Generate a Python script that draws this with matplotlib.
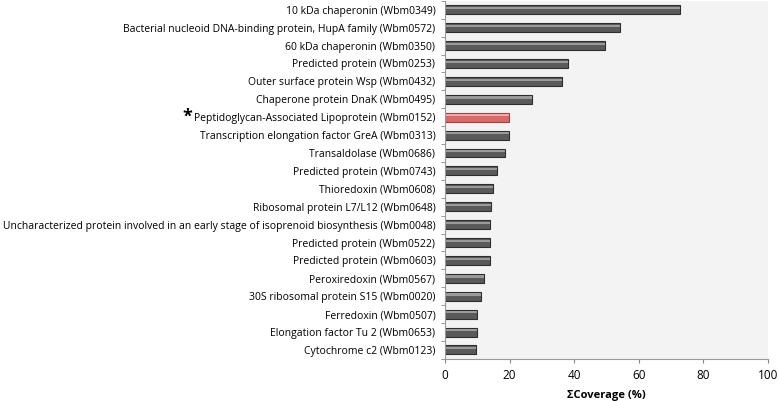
import matplotlib.pyplot as plt
import numpy as np

plt.rcParams["font.family"] = ["Open Sans", "DejaVu Sans"]

proteins = [
    "10 kDa chaperonin (Wbm0349)",
    "Bacterial nucleoid DNA-binding protein, HupA family (Wbm0572)",
    "60 kDa chaperonin (Wbm0350)",
    "Predicted protein (Wbm0253)",
    "Outer surface protein Wsp (Wbm0432)",
    "Chaperone protein DnaK (Wbm0495)",
    "Peptidoglycan-Associated Lipoprotein (Wbm0152)",
    "Transcription elongation factor GreA (Wbm0313)",
    "Transaldolase (Wbm0686)",
    "Predicted protein (Wbm0743)",
    "Thioredoxin (Wbm0608)",
    "Ribosomal protein L7/L12 (Wbm0648)",
    "Uncharacterized protein involved in an early stage of isoprenoid biosynthesis (Wbm0048)",
    "Predicted protein (Wbm0522)",
    "Predicted protein (Wbm0603)",
    "Peroxiredoxin (Wbm0567)",
    "30S ribosomal protein S15 (Wbm0020)",
    "Ferredoxin (Wbm0507)",
    "Elongation factor Tu 2 (Wbm0653)",
    "Cytochrome c2 (Wbm0123)",
]
coverage = [72.8, 54.3, 49.5, 38.2, 36.2, 26.8, 19.9, 19.8, 18.6, 16.1,
            15.0, 14.1, 13.8, 13.8, 13.8, 12.2, 11.0, 10.0, 10.0, 9.7]
highlight = "Peptidoglycan-Associated Lipoprotein (Wbm0152)"

fig = plt.figure(figsize=(7.78, 4.01), dpi=100)
ax = fig.add_axes([0.572, 0.105, 0.415, 0.893])
ax.set_facecolor("#f3f3f3")

y = np.arange(len(proteins))
face = ["#d86a6a" if p == highlight else "#5a5a5a" for p in proteins]
edge = ["#a04040" if p == highlight else "#2e2e2e" for p in proteins]
shine = ["#f0a8a8" if p == highlight else "#9a9a9a" for p in proteins]

ax.barh(y, coverage, height=0.5, color=face, edgecolor=edge, linewidth=0.8)
# lighter strip across the top of each bar for the bevelled look
ax.barh(y - 0.1, coverage, height=0.12, color=shine, linewidth=0)

ax.set_xlim(0, 100)
ax.set_ylim(len(proteins) - 0.5, -0.5)
ax.set_xticks([0, 20, 40, 60, 80, 100])
ax.set_yticks(y)
ax.set_yticklabels(proteins, fontsize=7.45)
ax.set_yticks(np.arange(len(proteins) + 1) - 0.5, minor=True)
ax.tick_params(axis="y", which="major", length=0, pad=7)
ax.tick_params(axis="y", which="minor", length=3, color="#888888")
ax.tick_params(axis="x", length=3, color="#888888", labelsize=8.5, pad=4)

for s in ["top", "right"]:
    ax.spines[s].set_visible(False)
for s in ["left", "bottom"]:
    ax.spines[s].set_color("#999999")

ax.set_xlabel("ΣCoverage (%)", fontsize=8, fontweight="bold", labelpad=6)

# asterisk just left of the highlighted label
idx = proteins.index(highlight)
fig.canvas.draw()
lab = ax.get_yticklabels()[idx]
bb = lab.get_window_extent(fig.canvas.get_renderer())
fx = (bb.x0 - 2) / fig.bbox.width
ax.annotate("*", xy=(fx, idx), xycoords=("figure fraction", "data"),
            fontsize=13, fontweight="bold", va="center", ha="right")

fig.savefig("out.png", dpi=100)
